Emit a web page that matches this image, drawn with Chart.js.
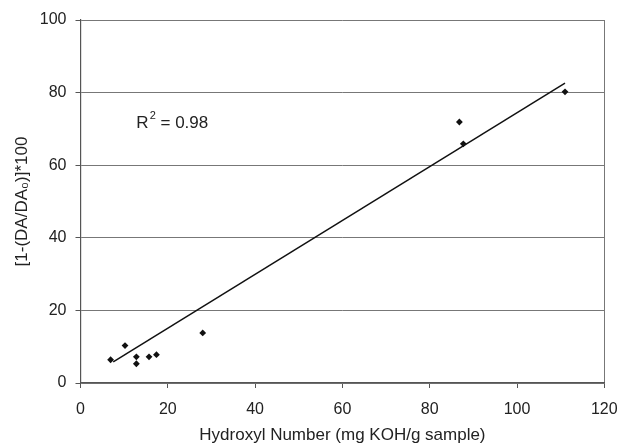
<!DOCTYPE html>
<html>
<head>
<meta charset="utf-8">
<script src="https://cdn.jsdelivr.net/npm/chart.js@4"></script>
<style>
  html, body { margin: 0; padding: 0; background: #fff; }
  #wrap { width: 620px; height: 444px; }
</style>
</head>
<body>
<div id="wrap"><canvas id="chart" width="620" height="444"></canvas></div>
<script>
// values
var hydroxylNumber = [6.9, 10.2, 12.8, 12.8, 15.7, 17.4, 28.0, 86.8, 87.7, 111.0];
var inhibition     = [6.4, 10.3, 7.2, 5.3, 7.2, 7.8, 13.8, 71.9, 65.9, 80.2];
var trendX = [7.5, 111.0];
var trendY = [5.8, 82.6];
var xTicks = [0, 20, 40, 60, 80, 100, 120];
var yTicks = [0, 20, 40, 60, 80, 100];
var r2Label = { x: 12.8, y: 71.5, text: '0.98' };

var points = hydroxylNumber.map(function (x, i) { return { x: x, y: inhibition[i] }; });
var trend = trendX.map(function (x, i) { return { x: x, y: trendY[i] }; });

var textColor = '#222';
var family = 'Liberation Sans, Arial, sans-serif';
var tickFont = { family: family, size: 16 };

var r2Plugin = {
    id: 'r2',
    afterDatasetsDraw: function (chart) {
        var c = chart.ctx;
        var px = chart.scales.x.getPixelForValue(r2Label.x);
        var py = chart.scales.y.getPixelForValue(r2Label.y);
        c.save();
        c.fillStyle = textColor;
        c.textBaseline = 'middle';
        c.textAlign = 'left';
        c.font = '17px ' + family;
        c.fillText('R', px, py);
        var w = c.measureText('R').width;
        c.font = '11px ' + family;
        c.fillText('2', px + w + 1, py - 7);
        var w2 = c.measureText('2').width;
        c.font = '17px ' + family;
        c.fillText(' = ' + r2Label.text, px + w + w2 + 1, py);
        c.restore();
    }
};

new Chart(document.getElementById('chart').getContext('2d'), {
    type: 'scatter',
    data: {
        datasets: [{
            label: 'data',
            data: points,
            pointStyle: 'rectRot',
            pointRadius: 3.4,
            backgroundColor: '#111',
            borderColor: '#111',
            borderWidth: 0
        }, {
            label: 'trend',
            type: 'line',
            data: trend,
            borderColor: '#111',
            borderWidth: 1.5,
            pointRadius: 0,
            fill: false
        }]
    },
    options: {
        responsive: false,
        animation: false,
        layout: { padding: { top: 20, right: 15.7, left: 0, bottom: 0 } },
        plugins: { legend: { display: false }, tooltip: { enabled: false } },
        scales: {
            x: {
                type: 'linear',
                min: 0, max: 120,
                afterBuildTicks: function (s) { s.ticks = xTicks.map(function (v) { return { value: v }; }); },
                afterFit: function (s) { s.height = 61; s.paddingLeft = 0; s.paddingRight = 0; },
                ticks: { color: textColor, font: tickFont, padding: 12 },
                grid: {
                    color: function (ctx) { return ctx.tick && ctx.tick.value === 120 ? '#777' : 'rgba(0,0,0,0)'; },
                    tickColor: '#555',
                    tickLength: 5,
                    lineWidth: 1
                },
                border: { color: '#555', width: 1.2 },
                title: {
                    display: true,
                    text: 'Hydroxyl Number (mg KOH/g sample)',
                    color: textColor,
                    font: { family: family, size: 17 },
                    padding: { top: 8, bottom: -2 }
                }
            },
            y: {
                min: 0, max: 100,
                afterBuildTicks: function (s) { s.ticks = yTicks.map(function (v) { return { value: v }; }); },
                afterFit: function (s) { s.width = 80.5; s.paddingTop = 0; s.paddingBottom = 0; },
                ticks: { color: textColor, font: tickFont, padding: 9 },
                grid: {
                    color: '#777',
                    tickColor: '#555',
                    tickLength: 5,
                    lineWidth: 1
                },
                border: { color: '#555', width: 1.2 },
                title: {
                    display: true,
                    text: '[1-(DA/DA\u2080)]*100',
                    color: textColor,
                    font: { family: family, size: 17 },
                    padding: { top: 12, bottom: 4 }
                }
            }
        }
    },
    plugins: [r2Plugin]
});
</script>
</body>
</html>
